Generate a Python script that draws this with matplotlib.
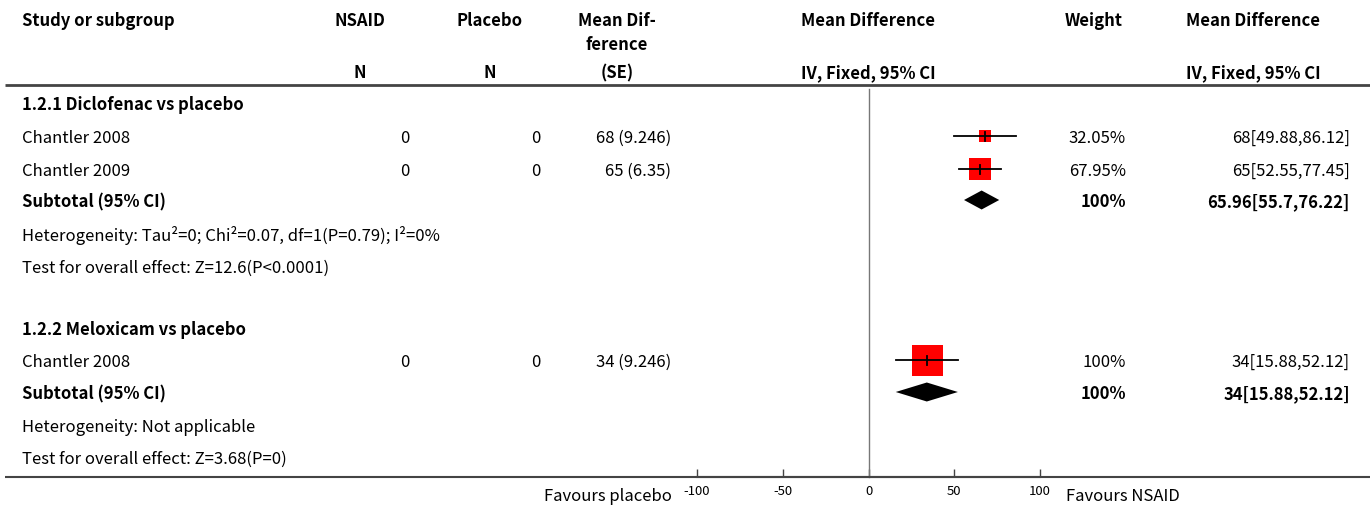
import matplotlib
matplotlib.use("Agg")
import matplotlib.pyplot as plt
from matplotlib.patches import Polygon

plt.rcParams["font.family"] = ["Noto Sans CJK SC", "DejaVu Sans"]

# study rows
studies = ["Chantler 2008", "Chantler 2009", "Chantler 2008"]
n_nsaid = [0, 0, 0]
n_placebo = [0, 0, 0]
md_se = ["68 (9.246)", "65 (6.35)", "34 (9.246)"]
md = [68, 65, 34]
ci_lo = [49.88, 52.55, 15.88]
ci_hi = [86.12, 77.45, 52.12]
weights = [32.05, 67.95, 100]
weight_labels = ["32.05%", "67.95%", "100%"]
ci_labels = ["68[49.88,86.12]", "65[52.55,77.45]", "34[15.88,52.12]"]

# subgroup totals
groups = ["1.2.1 Diclofenac vs placebo", "1.2.2 Meloxicam vs placebo"]
sub_md = [65.96, 34]
sub_lo = [55.7, 15.88]
sub_hi = [76.22, 52.12]
sub_labels = ["65.96[55.7,76.22]", "34[15.88,52.12]"]
heterogeneity = ["Heterogeneity: Tau²=0; Chi²=0.07, df=1(P=0.79); I²=0%",
                 "Heterogeneity: Not applicable"]
overall = ["Test for overall effect: Z=12.6(P<0.0001)",
           "Test for overall effect: Z=3.68(P=0)"]
ticks = [-100, -50, 0, 50, 100]

# row layout (pixel rows, top down)
group_y = [103, 329]
study_y = [137, 170, 361]
sub_y = [201, 393]
het_y = [234, 426]
test_y = [267, 458]

W, H = 1370, 510
fig = plt.figure(figsize=(W / 100, H / 100), dpi=100)
ax = fig.add_axes([0, 0, 1, 1])
ax.set_xlim(0, W)
ax.set_ylim(H, 0)
ax.axis("off")

fs = 12
dy = 1.5  # nudge text down to sit on the row centre
bold = dict(fontsize=fs, fontweight="bold", va="center")
reg = dict(fontsize=fs, va="center")


def put(x, y, s, ha, style):
    ax.text(x, y + dy, s, ha=ha, **style)


# header
put(22, 20, "Study or subgroup", "left", bold)
put(360, 20, "NSAID", "center", bold)
put(490, 20, "Placebo", "center", bold)
put(617, 20, "Mean Dif-", "center", bold)
put(617, 43, "ference", "center", bold)
put(868, 20, "Mean Difference", "center", bold)
put(1094, 20, "Weight", "center", bold)
put(1253, 20, "Mean Difference", "center", bold)
put(360, 72, "N", "center", bold)
put(490, 72, "N", "center", bold)
put(617, 72, "(SE)", "center", bold)
put(868, 72, "IV, Fixed, 95% CI", "center", bold)
put(1253, 72, "IV, Fixed, 95% CI", "center", bold)

ax.plot([5, W], [86, 86], color="#444444", lw=2, solid_capstyle="butt")
ax.plot([5, W], [478, 478], color="#444444", lw=1.5, solid_capstyle="butt")

for i, y in enumerate(study_y):
    put(22, y, studies[i], "left", reg)
    put(410, y, str(n_nsaid[i]), "right", reg)
    put(541, y, str(n_placebo[i]), "right", reg)
    put(671, y, md_se[i], "right", reg)
    put(1126, y, weight_labels[i], "right", reg)
    put(1350, y, ci_labels[i], "right", reg)

for g in range(2):
    put(22, group_y[g], groups[g], "left", bold)
    put(22, sub_y[g], "Subtotal (95% CI)", "left", bold)
    put(1126, sub_y[g], "100%", "right", bold)
    put(1350, sub_y[g], sub_labels[g], "right", bold)
    put(22, het_y[g], heterogeneity[g], "left", reg)
    put(22, test_y[g], overall[g], "left", reg)

put(672, 495, "Favours placebo", "right", reg)
put(1066, 495, "Favours NSAID", "left", reg)

# forest panel: x in effect units, y shares the pixel rows
fx = fig.add_axes([697 / W, 0, 343 / W, 1])
fx.set_xlim(-100, 100)
fx.set_ylim(H, 0)
fx.patch.set_visible(False)
for s in ["top", "left", "right"]:
    fx.spines[s].set_visible(False)
fx.spines["bottom"].set_position(("data", 478))
fx.spines["bottom"].set_color("#444444")
fx.spines["bottom"].set_linewidth(1.5)
fx.set_yticks([])
fx.set_xticks(ticks)
fx.set_xticklabels([str(t) for t in ticks])
fx.tick_params(axis="x", direction="in", length=6, width=1, color="#444444",
               labelsize=9.5, pad=5)

fx.plot([0, 0], [90, 478], color="#777777", lw=1)

for i, y in enumerate(study_y):
    # box side grows with study weight
    side = 2 + 29 * weights[i] / 100
    fx.scatter([md[i]], [y], marker="s", s=(side * 0.72) ** 2,
               color="#ff0000", linewidths=0, zorder=2)
    fx.plot([ci_lo[i], ci_hi[i]], [y, y], color="black", lw=1.3, zorder=3)
    fx.plot([md[i], md[i]], [y - 4.5, y + 4.5], color="black", lw=1.3, zorder=3)

for g in range(2):
    y = sub_y[g]
    fx.add_patch(Polygon([(sub_lo[g], y), (sub_md[g], y - 9.5),
                          (sub_hi[g], y), (sub_md[g], y + 9.5)],
                         closed=True, color="black", lw=0))

fig.savefig("out.png", dpi=100)
